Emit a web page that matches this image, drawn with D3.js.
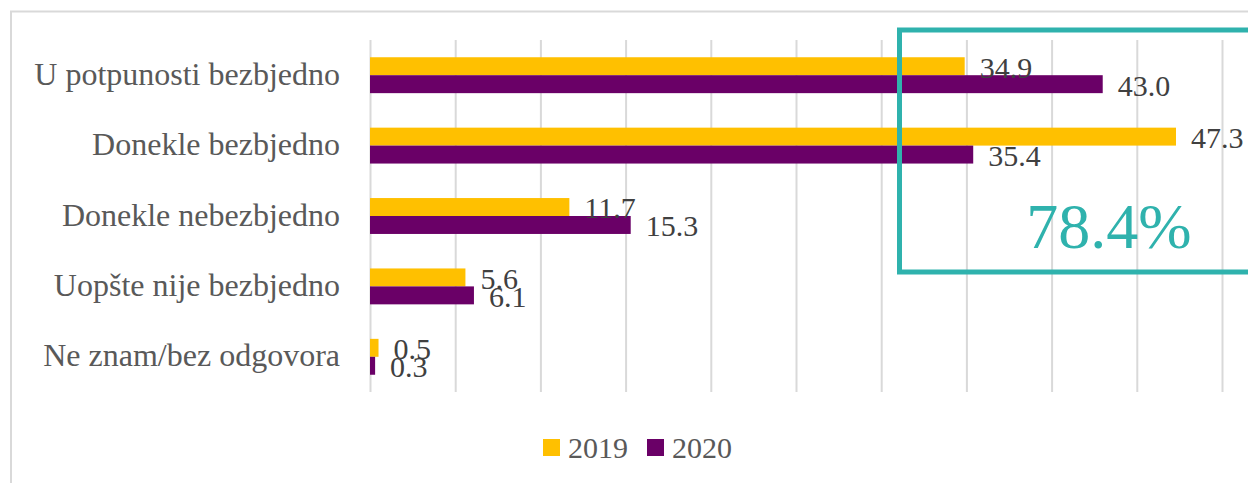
<!DOCTYPE html>
<html>
<head>
<meta charset="utf-8">
<script src="https://cdn.jsdelivr.net/npm/d3@7"></script>
<style>
  body { margin: 0; background: #fff; }
  svg text { font-family: "Palatino Linotype", "Book Antiqua", Palatino, "Liberation Serif", serif; }
</style>
</head>
<body>
<div id="chart"></div>
<script>

var categories = ["U potpunosti bezbjedno", "Donekle bezbjedno", "Donekle nebezbjedno", "Uopšte nije bezbjedno", "Ne znam/bez odgovora"];
var series = ["2019", "2020"];
var values2019 = [34.9, 47.3, 11.7, 5.6, 0.5];
var values2020 = [43.0, 35.4, 15.3, 6.1, 0.3];
var xTicks = [0, 5, 10, 15, 20, 25, 30, 35, 40, 45, 50];
var highlight = "78.4%";

var width = 1248;
var height = 483;
var margin = {top: 40, right: 26, bottom: 91, left: 370};
var colors = {"2019": "#ffc000", "2020": "#6a0067"};

var dataset = categories.map(function(c, i) {
  return {cat: c, vals: [{s: "2019", v: values2019[i]}, {s: "2020", v: values2020[i]}]};
});

var svg = d3.select("#chart")
  .append("svg")
  .attr("width", width)
  .attr("height", height);

// chart area border
svg.append("rect")
  .attr("x", 11).attr("y", 11.5)
  .attr("width", 1300).attr("height", 600)
  .attr("fill", "none")
  .attr("stroke", "#d9d9d9")
  .attr("stroke-width", 2);

var xScale = d3.scaleLinear()
  .domain([0, 50])
  .range([margin.left, width - margin.right]);

var yScale = d3.scaleBand()
  .domain(categories)
  .range([margin.top, height - margin.bottom])
  .paddingInner(0.49)
  .paddingOuter(0.245);

var ySub = d3.scaleBand()
  .domain(series)
  .range([0, yScale.bandwidth()]);

// gridlines
var grid = svg.append("g")
  .attr("transform", "translate(0," + (height - margin.bottom) + ")")
  .call(d3.axisBottom(xScale)
    .tickValues(xTicks)
    .tickSize(-(height - margin.bottom - margin.top))
    .tickFormat(""));
grid.select(".domain").remove();
grid.selectAll(".tick line")
  .attr("stroke", "#d9d9d9")
  .attr("stroke-width", 2);

// category labels
svg.append("g")
  .selectAll("text")
  .data(categories)
  .enter()
  .append("text")
  .attr("x", margin.left - 30)
  .attr("y", function(d) { return yScale(d) + yScale.bandwidth() / 2; })
  .attr("dy", "0.3em")
  .attr("text-anchor", "end")
  .attr("fill", "#595959")
  .style("font-size", "32px")
  .text(function(d) { return d; });

var groups = svg.selectAll(".grp")
  .data(dataset)
  .enter()
  .append("g")
  .attr("class", "grp")
  .attr("transform", function(d) { return "translate(0," + yScale(d.cat) + ")"; });

groups.selectAll("rect")
  .data(function(d) { return d.vals; })
  .enter()
  .append("rect")
  .attr("x", xScale(0))
  .attr("y", function(d) { return ySub(d.s); })
  .attr("width", function(d) { return xScale(d.v) - xScale(0); })
  .attr("height", ySub.bandwidth())
  .attr("fill", function(d) { return colors[d.s]; });

groups.selectAll(".lbl")
  .data(function(d) { return d.vals; })
  .enter()
  .append("text")
  .attr("class", "lbl")
  .attr("x", function(d) { return xScale(d.v) + 15; })
  .attr("y", function(d) { return ySub(d.s) + ySub.bandwidth() / 2; })
  .attr("dy", "0.38em")
  .attr("fill", "#404040")
  .style("font-size", "30px")
  .text(function(d) { return d.v.toFixed(1); });

// highlight box
svg.append("rect")
  .attr("x", 899.5).attr("y", 30)
  .attr("width", 500).attr("height", 242)
  .attr("fill", "none")
  .attr("stroke", "#2fb2ad")
  .attr("stroke-width", 5);

svg.append("text")
  .attr("x", 1109).attr("y", 248)
  .attr("text-anchor", "middle")
  .attr("fill", "#2fb2ad")
  .style("font-size", "64px")
  .text(highlight);

// legend
var legend = svg.append("g")
  .attr("transform", "translate(543,439)");

var item = legend.selectAll("g")
  .data(series)
  .enter()
  .append("g")
  .attr("transform", function(d, i) { return "translate(" + (i * 104) + ",0)"; });

item.append("rect")
  .attr("width", 17).attr("height", 17)
  .attr("fill", function(d) { return colors[d]; });

item.append("text")
  .attr("x", 25).attr("y", 8.5)
  .attr("dy", "0.36em")
  .attr("fill", "#595959")
  .style("font-size", "30px")
  .text(function(d) { return d; });

</script>
</body>
</html>
